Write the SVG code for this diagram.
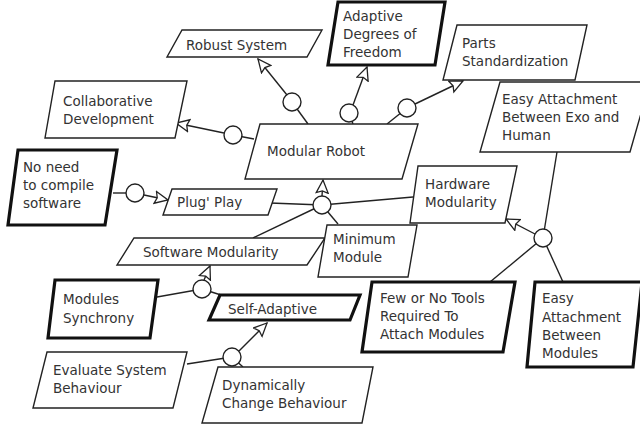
<svg xmlns="http://www.w3.org/2000/svg" width="640" height="430" viewBox="0 0 640 430">
<defs>
<marker id="arr" markerUnits="userSpaceOnUse" markerWidth="18" markerHeight="16" refX="14" refY="7" orient="auto">
<path d="M1,1 L14,7 L1,13 L3,7 z" fill="#fff" stroke="#222" stroke-width="1.3" stroke-linejoin="miter"/>
</marker>
<style>
.n{fill:#fff;stroke:#222;stroke-width:1.4}
.b{fill:#fff;stroke:#111;stroke-width:3.2}
.t{font-family:"DejaVu Sans","Liberation Sans",sans-serif;font-size:13.5px;fill:#333}
.c{fill:none;stroke:#222;stroke-width:1.4}
.o{fill:#fff;stroke:#222;stroke-width:1.4}
</style>
</defs>
<rect width="640" height="430" fill="#fff"/>
<g id="connectors">
<line class="c" x1="308" y1="124" x2="292" y2="102"/>
<line class="c" x1="254" y1="139" x2="233" y2="135"/>
<line class="c" x1="353" y1="124" x2="349" y2="113"/>
<line class="c" x1="387" y1="124" x2="407" y2="108"/>
<line class="c" x1="270" y1="203" x2="322" y2="205"/>
<line class="c" x1="413" y1="197" x2="322" y2="205"/>
<line class="c" x1="253" y1="238" x2="322" y2="205"/>
<line class="c" x1="338" y1="224" x2="322" y2="205"/>
<line class="c" x1="113" y1="193" x2="135" y2="193"/>
<line class="c" x1="157" y1="297" x2="202" y2="289"/>
<line class="c" x1="221" y1="295" x2="202" y2="289"/>
<line class="c" x1="187" y1="364" x2="232" y2="357"/>
<line class="c" x1="243" y1="367" x2="232" y2="357"/>
<line class="c" x1="557" y1="152" x2="543" y2="238"/>
<line class="c" x1="490" y1="282" x2="543" y2="238"/>
<line class="c" x1="563" y1="282" x2="543" y2="238"/>
<line class="c" x1="287" y1="95" x2="258" y2="59" marker-end="url(#arr)"/>
<line class="c" x1="224" y1="133" x2="176" y2="123" marker-end="url(#arr)"/>
<line class="c" x1="353" y1="105" x2="367" y2="67" marker-end="url(#arr)"/>
<line class="c" x1="415" y1="104" x2="463" y2="81" marker-end="url(#arr)"/>
<line class="c" x1="322" y1="196" x2="323" y2="180" marker-end="url(#arr)"/>
<line class="c" x1="144" y1="195" x2="168" y2="200" marker-end="url(#arr)"/>
<line class="c" x1="204" y1="280" x2="210" y2="266" marker-end="url(#arr)"/>
<line class="c" x1="239" y1="351" x2="267" y2="323" marker-end="url(#arr)"/>
<line class="c" x1="535" y1="234" x2="506" y2="219" marker-end="url(#arr)"/>
<circle class="o" cx="292" cy="102" r="9"/>
<circle class="o" cx="233" cy="135" r="9"/>
<circle class="o" cx="349" cy="113" r="9"/>
<circle class="o" cx="407" cy="108" r="9"/>
<circle class="o" cx="322" cy="205" r="9"/>
<circle class="o" cx="135" cy="193" r="9"/>
<circle class="o" cx="202" cy="289" r="9"/>
<circle class="o" cx="232" cy="357" r="9"/>
<circle class="o" cx="543" cy="238" r="9"/>
</g>
<g id="robust-system">
<polygon class="n" points="182,30 322,30 307,57 167,57"/>
<text class="t" x="186" y="50">Robust System</text>
</g>
<g id="adaptive-dof">
<polygon class="b" points="338,2 445,2 435,65 328,65"/>
<text class="t" x="343" y="21">Adaptive</text>
<text class="t" x="343" y="39">Degrees of</text>
<text class="t" x="343" y="57">Freedom</text>
</g>
<g id="parts-standardization">
<polygon class="n" points="457,25 587,25 575,80 443,80"/>
<text class="t" x="462" y="48">Parts</text>
<text class="t" x="462" y="66">Standardization</text>
</g>
<g id="easy-attachment-exo">
<polygon class="n" points="500,82 650,82 630,152 480,152"/>
<text class="t" x="502" y="104">Easy Attachment</text>
<text class="t" x="502" y="122">Between Exo and</text>
<text class="t" x="502" y="140">Human</text>
</g>
<g id="collaborative-development">
<polygon class="n" points="55,81 187,81 175,138 45,138"/>
<text class="t" x="63" y="106">Collaborative</text>
<text class="t" x="63" y="124">Development</text>
</g>
<g id="modular-robot">
<polygon class="n" points="260,124 418,124 402,179 245,179"/>
<text class="t" x="267" y="156">Modular Robot</text>
</g>
<g id="no-need-compile">
<polygon class="b" points="18,150 117,150 105,225 8,225"/>
<text class="t" x="23" y="172">No need</text>
<text class="t" x="23" y="190">to compile</text>
<text class="t" x="23" y="208">software</text>
</g>
<g id="plug-play">
<polygon class="n" points="172,189 277,189 268,215 163,215"/>
<text class="t" x="177" y="207">Plug' Play</text>
</g>
<g id="hardware-modularity">
<polygon class="n" points="418,166 517,166 505,223 410,223"/>
<text class="t" x="425" y="189">Hardware</text>
<text class="t" x="425" y="207">Modularity</text>
</g>
<g id="software-modularity">
<polygon class="n" points="134,238 325,238 307,265 117,265"/>
<text class="t" x="143" y="257">Software Modularity</text>
</g>
<g id="minimum-module">
<polygon class="n" points="327,225 417,225 408,277 318,277"/>
<text class="t" x="333" y="244">Minimum</text>
<text class="t" x="333" y="262">Module</text>
</g>
<g id="modules-synchrony">
<polygon class="b" points="55,280 158,280 150,338 48,338"/>
<text class="t" x="63" y="304">Modules</text>
<text class="t" x="63" y="323">Synchrony</text>
</g>
<g id="self-adaptive">
<polygon class="b" points="220,295 360,295 350,320 209,320"/>
<text class="t" x="228" y="314">Self-Adaptive</text>
</g>
<g id="evaluate-system-behaviour">
<polygon class="n" points="47,352 187,352 173,408 33,408"/>
<text class="t" x="53" y="375">Evaluate System</text>
<text class="t" x="53" y="393">Behaviour</text>
</g>
<g id="dynamically-change-behaviour">
<polygon class="n" points="218,367 373,367 362,423 202,423"/>
<text class="t" x="222" y="390">Dynamically</text>
<text class="t" x="222" y="408">Change Behaviour</text>
</g>
<g id="few-or-no-tools">
<polygon class="b" points="372,282 515,282 503,352 362,352"/>
<text class="t" x="380" y="303">Few or No Tools</text>
<text class="t" x="380" y="321">Required To</text>
<text class="t" x="380" y="339">Attach Modules</text>
</g>
<g id="easy-attachment-modules">
<polygon class="b" points="535,282 642,282 633,367 527,367"/>
<text class="t" x="542" y="303">Easy</text>
<text class="t" x="542" y="322">Attachment</text>
<text class="t" x="542" y="340">Between</text>
<text class="t" x="542" y="358">Modules</text>
</g>
</svg>
